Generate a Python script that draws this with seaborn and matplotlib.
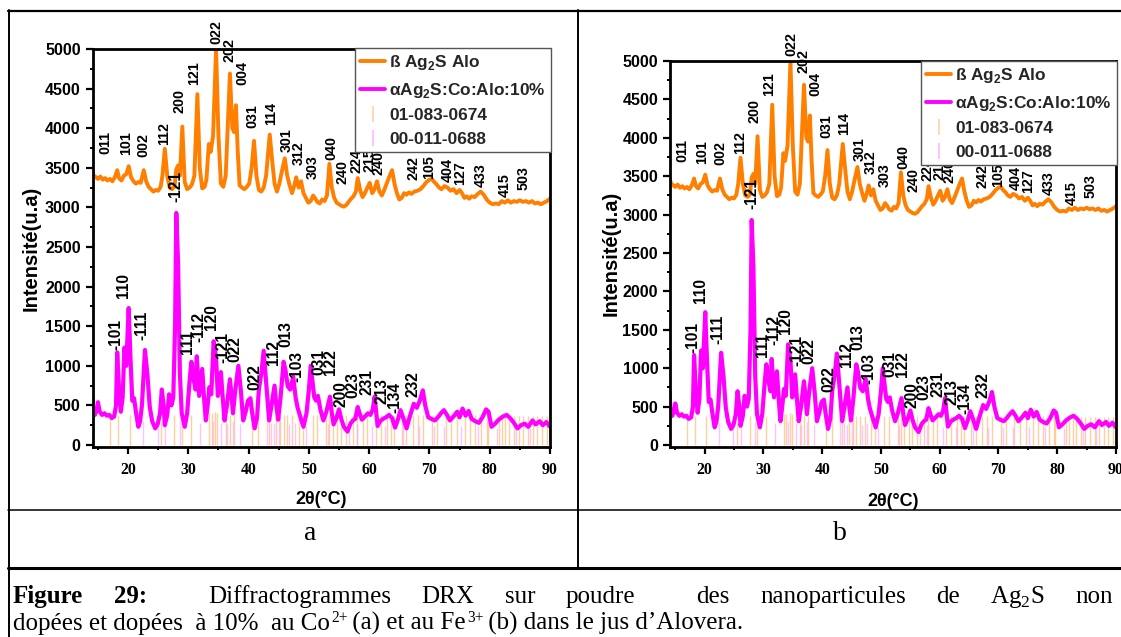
import matplotlib
matplotlib.use("Agg")
import matplotlib.pyplot as plt
from matplotlib.lines import Line2D
from matplotlib.ticker import MultipleLocator
import pandas as pd
import seaborn as sns

# ---------------- data ----------------
# beta-Ag2S (Alo) diffractogram
beta_2theta = [14.0, 14.3, 14.7, 15.0, 15.4, 15.8, 16.2, 16.6, 17.0, 17.4, 17.8, 18.2, 18.5, 18.9, 19.3, 19.7,
               20.1, 20.5, 20.9, 21.3, 21.7, 22.1, 22.6, 23.0, 23.4, 23.8, 24.2, 24.6, 25.0, 25.4, 25.7, 26.1,
               26.5, 26.9, 27.3, 27.7, 28.0, 28.3, 28.6, 29.0, 29.4, 29.8, 30.2, 30.6, 31.0, 31.5, 31.9, 32.3,
               32.7, 33.0, 33.4, 33.7, 34.1, 34.6, 35.0, 35.4, 35.8, 36.2, 36.9, 37.3, 37.6, 37.9, 38.2, 38.5,
               38.9, 39.3, 39.7, 40.1, 40.5, 40.9, 41.3, 41.7, 42.1, 42.5, 42.9, 43.5, 43.9, 44.3, 44.7, 45.1,
               45.5, 46.0, 46.4, 46.8, 47.2, 47.6, 47.9, 48.3, 48.7, 49.1, 49.5, 49.9, 50.3, 50.7, 51.0, 51.4,
               51.8, 52.2, 52.6, 53.0, 53.4, 53.8, 54.2, 54.6, 55.0, 55.4, 55.8, 56.2, 56.6, 57.0, 57.4, 57.8,
               58.1, 58.5, 58.9, 59.3, 59.7, 60.1, 60.5, 60.9, 61.3, 61.7, 62.1, 62.5, 62.9, 63.4, 63.8, 64.2,
               64.6, 65.0, 65.4, 65.8, 66.2, 66.6, 67.0, 67.5, 68.0, 68.5, 69.0, 69.5, 70.0, 70.4, 70.8, 71.2,
               71.6, 72.0, 72.5, 73.0, 73.5, 74.0, 74.5, 75.0, 75.4, 75.8, 76.2, 76.6, 77.0, 77.5, 78.0, 78.5,
               79.0, 79.5, 80.0, 80.5, 81.0, 81.5, 82.0, 82.5, 83.0, 83.5, 84.0, 84.5, 85.0, 85.5, 86.0, 86.5,
               87.0, 87.5, 88.0, 88.5, 89.0, 89.5, 90.0]
beta_counts = [3480, 3400, 3380, 3360, 3390, 3350, 3370, 3340, 3360, 3330, 3380, 3470, 3370, 3340, 3400, 3420,
               3520, 3380, 3330, 3300, 3320, 3310, 3470, 3330, 3260, 3230, 3200, 3220, 3210, 3260, 3400, 3740,
               3400, 3250, 3230, 3260, 3480, 3530, 3400, 4020, 3320, 3230, 3250, 3290, 3400, 4430, 3500, 3240,
               3260, 3350, 3800, 3700, 3900, 5000, 3900, 3300, 3260, 3400, 4690, 4000, 3950, 4290, 3700, 3280,
               3250, 3230, 3260, 3300, 3500, 3840, 3400, 3220, 3200, 3250, 3400, 3920, 3600, 3300, 3200, 3300,
               3450, 3620, 3400, 3280, 3180, 3280, 3380, 3250, 3330, 3180, 3120, 3060, 3080, 3150, 3120, 3070,
               3050, 3100, 3080, 3150, 3550, 3250, 3120, 3060, 3040, 3020, 3010, 3030, 3070, 3110, 3140, 3200,
               3370, 3220, 3130, 3180, 3250, 3310, 3180, 3230, 3330, 3200, 3150, 3220, 3300, 3400, 3470, 3300,
               3180, 3100, 3120, 3180, 3160, 3190, 3170, 3200, 3210, 3230, 3270, 3320, 3350, 3360, 3320, 3290,
               3250, 3230, 3270, 3250, 3210, 3230, 3180, 3220, 3180, 3120, 3140, 3110, 3140, 3130, 3170, 3200,
               3160, 3100, 3060, 3040, 3050, 3040, 3080, 3060, 3090, 3060, 3080, 3070, 3090, 3070, 3080, 3060,
               3080, 3050, 3060, 3040, 3060, 3080, 3110]

# alpha-Ag2S:Co (Alo, 10 %) diffractogram
alpha_2theta = [14.0, 14.2, 14.5, 14.8, 15.0, 15.3, 15.7, 16.1, 16.5, 16.9, 17.3, 17.7, 18.0, 18.2, 18.5, 18.8,
                19.1, 19.4, 19.7, 20.1, 20.4, 20.7, 21.0, 21.3, 21.7, 22.0, 22.3, 22.8, 23.2, 23.6, 24.0, 24.5,
                24.9, 25.3, 25.6, 25.9, 26.1, 26.5, 26.8, 27.2, 27.5, 27.8, 28.0, 28.3, 28.6, 28.9, 29.4, 29.8,
                30.2, 30.5, 30.9, 31.2, 31.4, 31.8, 32.3, 32.6, 32.9, 33.2, 33.5, 33.8, 34.2, 34.6, 34.9, 35.4,
                35.7, 36.0, 36.4, 36.9, 37.2, 37.4, 37.8, 38.3, 38.7, 39.1, 39.5, 39.9, 40.3, 40.6, 41.0, 41.4,
                41.7, 42.1, 42.5, 42.9, 43.4, 43.8, 44.3, 44.6, 44.9, 45.3, 45.8, 46.1, 46.5, 46.9, 47.4, 47.8,
                48.1, 48.6, 49.1, 49.6, 50.0, 50.3, 50.6, 50.9, 51.2, 51.5, 51.9, 52.4, 52.9, 53.5, 53.8, 54.1,
                54.6, 55.0, 55.4, 55.8, 56.4, 56.9, 57.3, 57.7, 58.1, 58.5, 58.8, 59.3, 59.8, 60.2, 60.6, 60.9,
                61.2, 61.4, 61.8, 62.3, 62.8, 63.3, 63.8, 64.3, 64.8, 65.2, 65.7, 66.2, 66.7, 67.4, 67.9, 68.4,
                68.9, 69.3, 69.8, 70.3, 70.9, 71.4, 71.9, 72.4, 72.9, 73.4, 74.0, 74.6, 75.0, 75.5, 76.0, 76.5,
                77.0, 77.6, 78.2, 78.8, 79.4, 79.8, 80.3, 80.9, 81.5, 82.2, 82.8, 83.4, 84.0, 84.6, 85.2, 85.8,
                86.4, 87.1, 87.6, 88.3, 88.8, 89.4, 90.0]
alpha_counts = [700, 420, 380, 450, 540, 420, 380, 400, 370, 380, 340, 360, 500, 1170, 700, 420,
                600, 1230, 1000, 1730, 1100, 560, 590, 420, 230, 300, 500, 1200, 900, 480, 300, 210,
                260, 400, 700, 500, 250, 380, 640, 500, 600, 1500, 2930, 2300, 900, 400, 230, 400,
                800, 1050, 820, 700, 1120, 620, 960, 600, 310, 500, 730, 640, 1310, 1100, 620, 920,
                600, 310, 500, 830, 600, 400, 700, 1000, 700, 310, 420, 560, 590, 400, 210, 350,
                700, 900, 1190, 800, 310, 500, 750, 500, 320, 600, 1050, 950, 740, 700, 860, 600,
                480, 350, 230, 400, 700, 1000, 800, 600, 560, 620, 450, 310, 420, 610, 400, 260,
                350, 450, 320, 230, 170, 270, 310, 330, 480, 380, 320, 360, 400, 380, 450, 610,
                380, 240, 300, 330, 350, 380, 340, 220, 330, 440, 330, 210, 350, 520, 470, 560,
                690, 500, 350, 330, 310, 350, 400, 440, 380, 310, 360, 420, 350, 460, 370, 430,
                330, 300, 280, 350, 450, 420, 230, 270, 320, 360, 380, 340, 280, 210, 250, 270,
                230, 310, 260, 300, 250, 290, 230]

# reference patterns (stick positions / relative heights)
card1_pos = [17.0, 18.3, 20.3, 25.5, 27.7, 28.9, 30.4, 33.5, 33.9, 34.5, 34.8, 36.2, 36.9, 37.6, 40.6, 41.6,
             43.3, 44.5, 45.2, 45.8, 46.4, 47.2, 48.3, 49.0, 50.6, 51.4, 52.9, 53.4, 54.0, 54.7, 55.3, 56.1,
             57.3, 58.0, 58.9, 59.6, 61.1, 61.9, 62.9, 63.6, 64.2, 65.4, 66.1, 67.2, 68.1, 68.9, 70.4, 71.3,
             72.7, 73.6, 74.6, 75.9, 76.7, 77.5, 78.6, 79.5, 79.7, 81.5, 82.0, 82.6, 83.2, 84.0, 84.8, 85.5,
             86.4, 87.1, 87.9, 88.7, 89.5]
card1_int = [380, 380, 380, 300, 380, 380, 380, 400, 400, 420, 400, 380, 380, 380, 380, 380,
             380, 380, 380, 380, 380, 380, 380, 380, 380, 380, 380, 380, 380, 380, 380, 380,
             380, 380, 380, 380, 380, 380, 380, 380, 380, 380, 380, 380, 380, 380, 380, 380,
             380, 380, 380, 380, 380, 380, 380, 380, 380, 360, 360, 360, 360, 360, 360, 360,
             360, 360, 360, 360, 360]
card2_pos = [22.4, 24.9, 26.2, 28.6, 31.9, 34.1, 35.5, 36.4, 37.4, 38.6, 43.1, 43.7, 44.2, 45.1, 46.7, 47.7,
             49.5, 53.1, 56.6, 57.9, 60.5, 62.7, 65.6, 68.3, 70.8, 72.4, 75.2, 78.0, 81.2, 84.3, 86.6]
card2_int = [300, 260, 240, 300, 280, 300, 280, 260, 300, 260, 300, 280, 260, 300, 260, 280,
             240, 260, 240, 260, 240, 240, 260, 240, 240, 240, 240, 240, 220, 240, 220]

# Miller indices of the beta phase
beta_hkl = ["011", "101", "002", "112", "200", "121", "022", "202", "004", "031", "114", "301", "312",
            "303", "040", "240", "224", "215", "240", "242", "105", "404", "127", "433", "415", "503"]
beta_hkl_x = [16.2, 19.6, 22.6, 26.0, 28.5, 31.0, 34.7, 36.8, 38.9, 40.7, 43.8, 46.3, 48.3,
              50.6, 53.8, 55.5, 57.9, 60.0, 61.6, 67.3, 69.9, 73.0, 75.1, 78.5, 82.5, 85.6]
beta_hkl_y = [3680, 3660, 3640, 3790, 4190, 4550, 5060, 4840, 4550, 4000, 4040, 3700, 3530,
              3360, 3600, 3300, 3440, 3450, 3410, 3340, 3360, 3320, 3280, 3260, 3130, 3220]

# Miller indices of the alpha phase
alpha_hkl = ["-101", "110", "-111", "-121", "111", "-112", "120", "-121", "022", "022", "112", "013",
             "-103", "031", "122", "200", "023", "231", "213", "-134", "232"]
alpha_hkl_x = [18.0, 19.3, 22.3, 28.0, 29.9, 31.8, 33.8, 35.7, 37.7, 41.1, 44.1, 46.1,
               48.0, 51.6, 53.6, 55.3, 57.3, 59.7, 62.1, 64.3, 67.3]
alpha_hkl_y = [1200, 1850, 1320, 3070, 1150, 1300, 1450, 1030, 1050, 690, 1010, 1240,
               800, 880, 880, 480, 590, 630, 520, 400, 610]

legend_labels = ["ß Ag$_\\mathbf{2}$S Alo", "αAg$_\\mathbf{2}$S:Co:Alo:10%", "01-083-0674", "00-011-0688"]
x_ticks = [20, 30, 40, 50, 60, 70, 80, 90]
y_ticks = [0, 500, 1000, 1500, 2000, 2500, 3000, 3500, 4000, 4500, 5000]

# ---------------- style ----------------
sns.set_theme(style="white")
plt.rcParams["font.family"] = ["Liberation Sans", "DejaVu Sans"]
plt.rcParams["mathtext.fontset"] = "custom"
plt.rcParams["mathtext.rm"] = "Liberation Serif"
plt.rcParams["mathtext.bf"] = "Liberation Sans:bold"

ORANGE = "#FF7F00"
MAGENTA = "#FF00FF"
STICK1 = "#FFB060"
STICK2 = "#FF9CFF"

W, H = 1121, 637
fig = plt.figure(figsize=(W / 100, H / 100), dpi=100)


def fx(px):
    return px / W


def fy(py):
    return 1 - py / H


beta_df = pd.DataFrame({"two_theta": beta_2theta, "counts": beta_counts})
alpha_df = pd.DataFrame({"two_theta": alpha_2theta, "counts": alpha_counts})

panels = [
    dict(x0=92.5, x1=550, ytop=49, yzero=445, leg=(551, 48), ylab=(31, 248), xlab=(321, 500)),
    dict(x0=670, x1=1116, ytop=61, yzero=445, leg=(1117, 61), ylab=(611, 253), xlab=(893, 501)),
]

YMIN, YMAX = -30, 5000
XMIN, XMAX = 14.1, 90

for p in panels:
    ppu = (p["yzero"] - p["ytop"]) / YMAX
    bottom_px = p["yzero"] - YMIN * ppu
    ax = fig.add_axes([fx(p["x0"]), fy(bottom_px), (p["x1"] - p["x0"]) / W, (bottom_px - p["ytop"]) / H])

    ax.vlines(card1_pos, 0, card1_int, colors=STICK1, lw=1.0, alpha=0.6, zorder=1)
    ax.vlines(card2_pos, 0, card2_int, colors=STICK2, lw=1.0, alpha=0.6, zorder=1)
    sns.lineplot(data=beta_df, x="two_theta", y="counts", sort=False, estimator=None,
                 color=ORANGE, lw=2.8, ax=ax, zorder=2)
    sns.lineplot(data=alpha_df, x="two_theta", y="counts", sort=False, estimator=None,
                 color=MAGENTA, lw=3.0, ax=ax, zorder=2)

    for t, x, y in zip(beta_hkl, beta_hkl_x, beta_hkl_y):
        ax.text(x, y, t, rotation=90, ha="center", va="bottom", fontsize=10.3,
                fontweight="bold", color="black", clip_on=False, zorder=3)
    for t, x, y in zip(alpha_hkl, alpha_hkl_x, alpha_hkl_y):
        ax.text(x, y, t, rotation=90, ha="center", va="bottom", fontsize=11.2,
                fontweight="bold", color="black", clip_on=False, zorder=3)

    ax.set_xlim(XMIN, XMAX)
    ax.set_ylim(YMIN, YMAX)
    ax.set_xticks(x_ticks)
    ax.set_yticks(y_ticks)
    ax.xaxis.set_minor_locator(MultipleLocator(5))
    ax.yaxis.set_minor_locator(MultipleLocator(250))
    ax.tick_params(which="major", direction="out", length=5, width=1.6, color="black",
                   bottom=True, left=True, top=False, right=False)
    ax.tick_params(which="minor", direction="out", length=2.4, width=1.4, color="black",
                   bottom=True, left=True, top=False, right=False)
    ax.tick_params(axis="y", pad=3.5)
    ax.tick_params(axis="x", pad=5.5)
    for lbl in ax.get_yticklabels():
        lbl.set_fontweight("bold")
        lbl.set_fontsize(11.5)
        lbl.set_color("black")
    for lbl in ax.get_xticklabels():
        lbl.set_fontfamily("Liberation Serif")
        lbl.set_fontweight("bold")
        lbl.set_fontsize(11.4)
        lbl.set_color("black")
    ax.set_xlabel("")
    ax.set_ylabel("")
    for s in ax.spines.values():
        s.set_linewidth(2.0)
        s.set_color("black")

    handles = [
        Line2D([], [], color=ORANGE, lw=2.8),
        Line2D([], [], color=MAGENTA, lw=2.8),
        Line2D([], [], color="#FFD2A8", marker="|", ls="None", ms=11, mew=1.2),
        Line2D([], [], color="#FFB8FF", marker="|", ls="None", ms=11, mew=1.2),
    ]
    leg = ax.legend(handles, legend_labels, loc="upper right",
                    bbox_to_anchor=(fx(p["leg"][0]), fy(p["leg"][1])), bbox_transform=fig.transFigure,
                    borderaxespad=0, borderpad=0.3, labelspacing=0.5, handlelength=1.45,
                    handletextpad=0.25, fancybox=False, framealpha=1, edgecolor="#555555",
                    prop={"weight": "bold", "size": 12.4})
    leg.get_frame().set_linewidth(1.0)
    leg.set_zorder(5)

    fig.text(fx(p["ylab"][0]), fy(p["ylab"][1]), "Intensité(u.a)", rotation=90, ha="center", va="center",
             fontsize=14.5, fontweight="bold", color="black")
    fig.text(fx(p["xlab"][0]), fy(p["xlab"][1]), "2θ(°C)", ha="center", va="center",
             fontsize=13, fontweight="bold", color="black")

# ---------------- table frame ----------------
def hline(py, x0, x1, lw):
    fig.add_artist(Line2D([fx(x0), fx(x1)], [fy(py), fy(py)], color="black", lw=lw))


def vline(px, y0, y1, lw):
    fig.add_artist(Line2D([fx(px), fx(px)], [fy(y0), fy(y1)], color="black", lw=lw))


hline(11, 8, W, 1.6)
hline(510, 8, W, 1.1)
hline(568, 8, W, 2.2)
vline(9, 10, H, 1.4)
vline(578, 10, 568, 1.4)

fig.text(fx(310), fy(533), "a", ha="center", va="center", fontsize=20, family="Liberation Serif", color="black")
fig.text(fx(840), fy(533), "b", ha="center", va="center", fontsize=20, family="Liberation Serif", color="black")

# ---------------- caption ----------------
CAP = 18
renderer = fig.canvas.get_renderer()


def cap_text(px, py, s, size=CAP, bold=False):
    return fig.text(fx(px), fy(py), s, fontsize=size, family="Liberation Serif",
                    fontweight="bold" if bold else "normal", va="baseline", ha="left", color="black")


# first line is justified between the two margins
line1 = [("Figure", True), ("29:", True), ("Diffractogrammes", False), ("DRX", False), ("sur", False),
         ("poudre", False), ("des", False), ("nanoparticules", False), ("de", False),
         ("Ag$_\\mathrm{2}$S", False), ("non", False)]
gaps = [1, 2, 1, 1, 1, 2, 1, 1, 1, 1]
objs = [cap_text(0, 603, w, bold=b) for w, b in line1]
widths = [t.get_window_extent(renderer).width for t in objs]
left_px, right_px = 13, 1113
unit = (right_px - left_px - sum(widths)) / sum(gaps)
x = left_px
for i, t in enumerate(objs):
    t.set_x(fx(x))
    x += widths[i]
    if i < len(gaps):
        x += gaps[i] * unit

# second line, with raised charge superscripts
line2 = [("dopées et dopées  à 10%  au Co", False), ("2+", True), (" (a) et au Fe", False), ("3+", True),
         (" (b) dans le jus d’Alovera.", False)]
x = 13
for s, sup in line2:
    if sup:
        t = cap_text(x + 1, 630 - 8, s, size=CAP * 0.62)
    else:
        t = cap_text(x, 630, s)
    x += t.get_window_extent(renderer).width

fig.savefig("out.png", dpi=100, facecolor="white")
